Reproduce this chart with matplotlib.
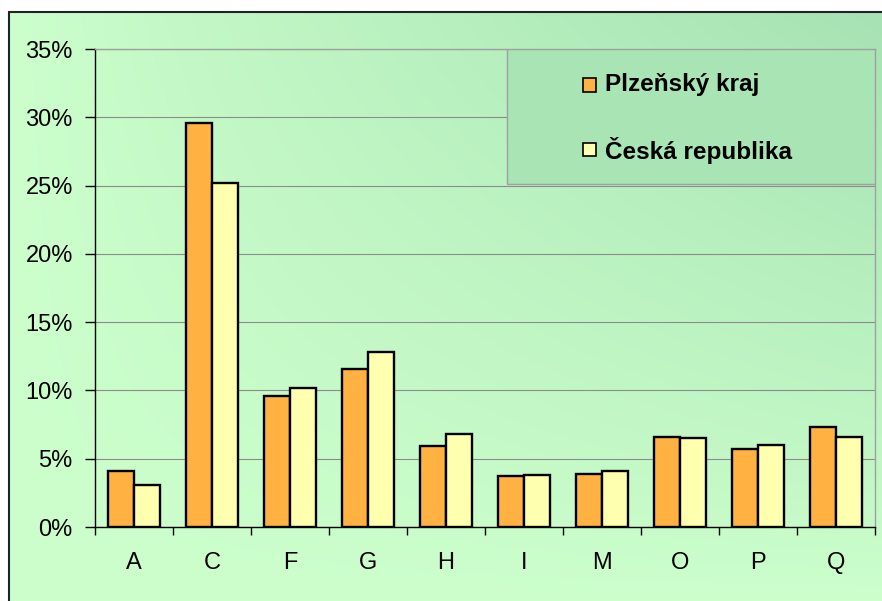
import numpy as np
import matplotlib.pyplot as plt
from matplotlib.patches import Rectangle
from matplotlib.ticker import FixedLocator, PercentFormatter

plt.rcParams['font.family'] = ['Liberation Sans', 'DejaVu Sans']

# ── Data ────────────────────────────────────────────────────────────────────
categories = ["A", "C", "F", "G", "H", "I", "M", "O", "P", "Q"]
series_names = ["Plzeňský kraj", "Česká republika"]
plzen = [4.1, 29.6, 9.6, 11.6, 5.9, 3.7, 3.9, 6.6, 5.7, 7.3]
cr = [3.1, 25.2, 10.2, 12.8, 6.8, 3.8, 4.1, 6.5, 6.0, 6.6]

colors = ["#ffb142", "#ffffb0"]

W, H = 882, 601
fig = plt.figure(figsize=(W / 100, H / 100), dpi=100)
fig.patch.set_facecolor("white")

# ── Gradient background inside the chart frame ──────────────────────────────
bg = fig.add_axes([9 / W, 0, 1 - 9 / W, (H - 12) / H], zorder=0)
xx, yy = np.meshgrid(np.linspace(0, 1, 300), np.linspace(0, 1, 200))
t = (xx * yy) ** 0.9
light = np.array([0xcc, 0xff, 0xcc]) / 255
dark = np.array([0xa6, 0xe2, 0xb3]) / 255
img = light[None, None, :] * (1 - t[..., None]) + dark[None, None, :] * t[..., None]
bg.imshow(img, origin="lower", aspect="auto", extent=[0, 1, 0, 1])
bg.set_xlim(0, 1)
bg.set_ylim(0, 1)
bg.axis("off")
bg.add_patch(Rectangle((0, -0.2), 1.2, 1.2, transform=bg.transAxes, fill=False,
                       edgecolor="#222222", linewidth=1.5, clip_on=False))

# ── Plot area ──────────────────────────────────────────────────────────────
x0, x1 = 95, 875
y_top, y_bot = 49, 527
ax = fig.add_axes([x0 / W, (H - y_bot) / H, (x1 - x0) / W, (y_bot - y_top) / H],
                  zorder=1)
ax.set_facecolor("none")

x = np.arange(len(categories))
bw = 1 / 3
ax.bar(x - bw / 2, np.array(plzen) / 100, bw, color=colors[0],
       edgecolor="black", linewidth=1.7, label=series_names[0], zorder=3)
ax.bar(x + bw / 2, np.array(cr) / 100, bw, color=colors[1],
       edgecolor="black", linewidth=1.7, label=series_names[1], zorder=3)

ax.set_xlim(-0.5, len(categories) - 0.5)
ax.set_ylim(0, 0.35)
ax.set_yticks(np.arange(0, 0.351, 0.05))
ax.yaxis.set_major_formatter(PercentFormatter(1.0, decimals=0))
ax.grid(axis="y", color="#8c8c8c", linewidth=0.8, zorder=1)

ax.xaxis.set_major_locator(FixedLocator(np.arange(-0.5, len(categories), 1)))
ax.xaxis.set_minor_locator(FixedLocator(x))
ax.set_xticklabels([])
ax.set_xticklabels(categories, minor=True)
ax.tick_params(axis="x", which="major", length=6, width=1, color="black")
ax.tick_params(axis="x", which="minor", length=0, pad=18, labelsize=17)
ax.tick_params(axis="y", length=7, width=1, pad=9, labelsize=17, color="black")

for side in ["top", "right"]:
    ax.spines[side].set_color("#a0a0a0")
    ax.spines[side].set_linewidth(1)
for side in ["left", "bottom"]:
    ax.spines[side].set_color("black")
    ax.spines[side].set_linewidth(1)

# ── Legend box ─────────────────────────────────────────────────────────────
lx0 = (507 - x0) / (x1 - x0)
ly0 = (y_bot - 184) / (y_bot - y_top)
ax.add_patch(Rectangle((lx0, ly0), 1 - lx0, 1 - ly0, transform=ax.transAxes,
                       facecolor="#a8e4b4", edgecolor="#a0a0a0", linewidth=1,
                       zorder=4))
for i, (name, c) in enumerate(zip(series_names, colors)):
    yc = (y_bot - (85 + i * 65)) / (y_bot - y_top)
    sq_w = 13 / (x1 - x0)
    sq_h = 13 / (y_bot - y_top)
    sx = (583 - x0) / (x1 - x0)
    ax.add_patch(Rectangle((sx, yc - sq_h / 2), sq_w, sq_h, transform=ax.transAxes,
                           facecolor=c, edgecolor="black", linewidth=1.2, zorder=5))
    ax.text((605 - x0) / (x1 - x0), yc, name, transform=ax.transAxes,
            fontsize=17.5, fontweight="bold", va="center", ha="left", zorder=5)

fig.savefig("out.png", dpi=100)
